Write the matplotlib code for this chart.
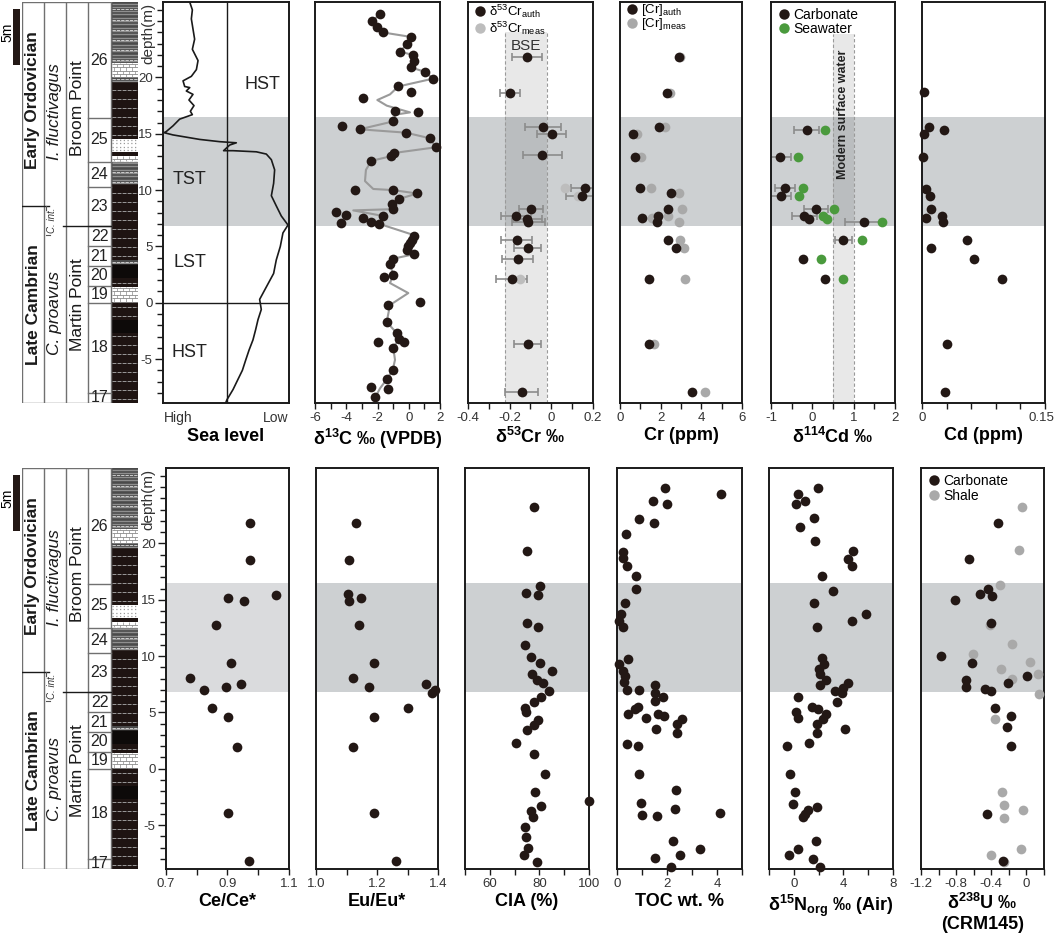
import numpy as np
import matplotlib
matplotlib.use('Agg')
import matplotlib.pyplot as plt
import matplotlib.transforms as mtransforms
from matplotlib.ticker import FixedLocator, MultipleLocator
from matplotlib.patches import Rectangle
from matplotlib.lines import Line2D

plt.rcParams['font.family'] = ['Liberation Sans', 'DejaVu Sans']
plt.rcParams['mathtext.fontset'] = 'custom'
plt.rcParams['mathtext.rm'] = 'Liberation Sans'
plt.rcParams['mathtext.it'] = 'Liberation Sans:italic'
plt.rcParams['mathtext.bf'] = 'Liberation Sans:bold'
plt.rcParams['mathtext.default'] = 'regular'
plt.rcParams['axes.unicode_minus'] = False

# ---------------- data ----------------
# sea level curve (0 = high, 1 = low)
sl_x = [0.212, 0.233, 0.225, 0.238, 0.251, 0.233, 0.278, 0.265, 0.225, 0.159, 0.172, 0.212, 0.185,
        0.238, 0.206, 0.246, 0.217, 0.233, 0.132, 0.079, 0.026, 0.008, 0.079, 0.291, 0.450, 0.582,
        0.529, 0.481, 0.556, 0.741, 0.820, 0.860, 0.886, 0.878, 0.860, 0.899, 0.939, 0.992, 0.952,
        0.931, 0.899, 0.878, 0.820, 0.767, 0.780, 0.754, 0.735, 0.714, 0.683, 0.656, 0.630, 0.595,
        0.556, 0.508, 0.497]
sl_depth = [26.7, 26.0, 25.2, 24.3, 23.4, 22.5, 21.5, 20.7, 20.1, 19.7, 19.2, 19.1, 18.8, 18.5,
            18.0, 17.5, 17.0, 16.7, 16.3, 15.7, 15.2, 15.1, 14.9, 14.5, 14.3, 14.2, 14.0, 13.5,
            13.5, 13.4, 13.2, 12.7, 11.8, 10.6, 9.5, 8.6, 7.7, 6.9, 6.2, 5.0, 3.8, 2.6, 1.4, 0.3,
            -0.6, -1.5, -2.4, -3.3, -4.2, -5.1, -6.0, -6.8, -7.7, -8.6, -8.9]
sl_labels = ['HST', 'TST', 'LST', 'HST']
sl_label_x = [0.79, 0.21, 0.21, 0.21]
sl_label_depth = [19.4, 10.9, 3.6, -4.4]

# d13C
d13c = [-1.84, -2.37, -2.01, -1.67, 0.14, -0.09, -0.56, 0.25, 0.36, 0.12, 1.04, 1.57, -0.67, 0.14,
        -2.91, -0.86, 0.57, -0.99, -4.29, -3.14, -0.18, 1.36, 1.72, -0.92, -1.16, -2.39, -3.42,
        -0.99, 0.53, -0.65, -1.09, -1.03, -4.66, -4.04, -1.63, -2.91, -2.42, -4.36, -1.88, 0.34,
        0.23, 0.08, -0.03, -0.13, 0.31, -1.03, -1.2, -0.99, -1.56, 0.72, -1.35, -1.41, -0.77,
        -0.62, -0.32, -1.99, -0.99, -1.03, -1.41, -2.44, -1.31, -2.14]
d13c_depth = [25.6, 25.0, 24.5, 24.0, 23.6, 23.0, 22.3, 22.0, 21.5, 20.9, 20.5, 19.9, 19.2, 18.7,
              18.2, 17.0, 16.9, 16.1, 15.7, 15.4, 15.1, 14.6, 13.8, 13.3, 13.0, 12.6, 10.0, 10.0,
              9.7, 9.2, 8.8, 8.3, 8.1, 7.8, 7.7, 7.5, 7.2, 7.1, 7.0, 5.96, 5.6, 5.3, 5.0, 4.7,
              4.3, 3.9, 3.4, 2.5, 2.3, 0.1, -0.2, -1.7, -2.7, -3.2, -3.5, -3.5, -4.0, -6.0,
              -6.8, -7.5, -7.7, -8.4]
# smoothed d13C trend line
d13c_trend = [-1.84, -2.37, -2.01, -1.67, 0.14, -0.09, -0.56, 0.25, 0.36, 0.12, 1.04, 1.57, -0.67,
              -1.2, -2.01, -1.41, 0.08, -0.86, -0.99, -3.14, -0.18, 1.36, 1.72, -0.92, -1.16,
              -2.39, -2.74, -2.8, -2.27, -0.99, 0.53, -0.65, -1.09, -1.2, -3.55, -1.63, -1.88,
              0.34, -0.13, 0.31, -1.03, -1.2, -0.99, -1.2, -0.03, -1.2, -1.41, -0.77, -0.62,
              -0.99, -0.88, -1.03, -1.41, -1.84, -2.14]
d13c_trend_depth = [25.6, 25.0, 24.5, 24.0, 23.6, 23.0, 22.3, 22.0, 21.5, 20.9, 20.5, 19.9, 19.2,
                    18.5, 18.0, 17.5, 16.9, 16.7, 16.1, 15.4, 15.1, 14.6, 13.8, 13.3, 13.0, 12.6,
                    11.8, 10.8, 10.1, 10.0, 9.7, 9.2, 8.8, 8.3, 8.2, 7.7, 7.0, 6.0, 4.7, 4.3, 3.9,
                    3.4, 2.5, 1.75, 0.86, -0.2, -1.7, -2.7, -3.2, -4.0, -5.07, -6.0, -6.8, -7.6,
                    -8.4]

# d53Cr
cr53_auth = [-0.115, -0.199, -0.041, 0.002, -0.043, 0.163, 0.147, -0.099, -0.17, -0.115, -0.11,
             -0.167, -0.114, -0.162, -0.191, -0.114, -0.143]
cr53_meas = [-0.115, -0.199, -0.041, 0.002, -0.043, 0.066, 0.126, -0.099, -0.17, -0.115, -0.11,
             -0.167, -0.114, -0.162, -0.151, -0.114, -0.143]
cr53_err = [0.072, 0.047, 0.086, 0.07, 0.095, 0.07, 0.075, 0.058, 0.073, 0.07, 0.08, 0.075, 0.063,
            0.076, 0.074, 0.063, 0.08]
cr53_depth = [21.8, 18.6, 15.6, 15.0, 13.1, 10.2, 9.5, 8.3, 7.7, 7.4, 7.2, 5.6, 4.9, 3.9, 2.1,
              -3.7, -7.9]
bse_range = (-0.22, -0.02)

# Cr concentration
cr_auth = [2.88, 2.30, 1.94, 0.66, 0.74, 0.99, 2.52, 2.38, 1.89, 1.10, 1.84, 2.38, 2.76, 1.43,
           1.43, 3.53]
cr_meas = [2.96, 2.47, 2.22, 0.85, 1.02, 1.51, 2.88, 3.04, 2.38, 1.56, 2.91, 2.96, 3.16, 3.21,
           1.69, 4.19]
cr_depth = [21.8, 18.6, 15.6, 15.0, 12.9, 10.2, 9.7, 8.3, 7.7, 7.5, 7.2, 5.6, 4.9, 2.1, -3.7, -7.9]

# d114Cd
cd_carb = [-0.137, -0.782, -0.661, -0.766, 0.089, -0.194, -0.08, 1.258, 0.75, -0.218, 0.306]
cd_sw = [0.306, -0.339, -0.218, -0.315, 0.532, 0.25, 0.347, 1.69, 1.19, 0.21, 0.742]
cd_err = [0.31, 0.26, 0.25, 0.26, 0.29, 0.3, 0.0, 0.46, 0.21, 0.0, 0.0]
cd_depth = [15.3, 12.9, 10.2, 9.5, 8.3, 7.7, 7.4, 7.2, 5.6, 3.9, 2.1]
msw_range = (0.5, 1.0)

# Cd concentration
cd_ppm = [0.003, 0.008, 0.027, 0.003, 0.001, 0.005, 0.010, 0.011, 0.024, 0.005, 0.026, 0.055,
          0.011, 0.064, 0.098, 0.030, 0.028]
cd_ppm_depth = [18.7, 15.6, 15.3, 15.0, 12.9, 10.1, 9.5, 8.3, 7.7, 7.5, 7.2, 5.6, 4.9, 3.9, 2.1,
                -3.7, -7.9]

# Ce/Ce*, Eu/Eu*
ce = [0.974, 0.974, 1.058, 0.903, 0.954, 0.862, 0.912, 0.779, 0.943, 0.894, 0.822, 0.851, 0.902,
      0.931, 0.902, 0.971]
ce_depth = [21.8, 18.5, 15.4, 15.2, 14.9, 12.8, 9.4, 8.1, 7.5, 7.3, 7.0, 5.4, 4.6, 1.9, -3.9, -8.2]
eu = [1.131, 1.108, 1.105, 1.149, 1.108, 1.142, 1.191, 1.120, 1.360, 1.173, 1.389, 1.380, 1.301,
      1.191, 1.121, 1.191, 1.261]
eu_depth = [21.8, 18.5, 15.5, 15.2, 14.9, 12.8, 9.4, 8.1, 7.5, 7.3, 7.0, 6.7, 5.4, 4.6, 1.9,
            -3.9, -8.2]

# CIA
cia = [77.7, 75.1, 80.2, 74.5, 79.6, 75.1, 79.5, 74.1, 76.5, 80.2, 85.0, 77.2, 79.2, 81.5, 83.9,
       80.8, 77.7, 74.1, 74.5, 79.5, 77.7, 75.1, 70.5, 77.7, 82.4, 78.3, 100.0, 80.6, 76.8, 77.5,
       74.1, 74.5, 75.6, 73.7, 79.1]
cia_depth = [23.2, 19.3, 16.2, 15.6, 15.4, 12.9, 12.6, 11.0, 9.9, 9.4, 8.7, 8.4, 7.9, 7.6, 6.9,
             6.4, 5.9, 5.4, 5.0, 4.3, 3.9, 3.4, 2.3, 1.3, -0.5, -2.1, -2.9, -3.3, -3.75, -4.3,
             -5.2, -6.1, -7.05, -7.65, -8.3]

# TOC
toc = [1.91, 4.15, 1.44, 2.0, 0.87, 1.47, 0.37, 0.25, 0.23, 0.41, 0.77, 0.75, 0.33, 0.15, 0.08,
       0.24, 0.44, 0.09, 0.24, 0.33, 0.27, 0.41, 0.87, 1.51, 1.51, 1.84, 1.53, 0.84, 0.71, 0.44,
       1.64, 1.88, 1.17, 2.6, 2.41, 1.55, 2.41, 0.41, 0.84, 0.88, 2.35, 0.95, 2.33, 0.99, 1.61,
       4.11, 2.23, 3.33, 2.51, 1.53, 2.17]
toc_depth = [24.9, 24.4, 23.8, 23.5, 22.2, 21.8, 20.8, 19.2, 18.7, 18.0, 17.1, 16.0, 14.7, 13.7,
             13.1, 12.6, 9.7, 9.3, 8.7, 8.2, 7.7, 7.0, 7.0, 7.4, 6.7, 6.4, 6.0, 5.5, 5.3, 4.9,
             4.9, 4.7, 4.5, 4.4, 4.0, 3.5, 3.2, 2.2, 2.0, -0.5, -1.9, -3.0, -3.6, -4.1, -4.2,
             -3.9, -6.4, -7.1, -7.65, -7.9, -8.7]

# d15N
n15 = [1.99, 0.37, 0.94, 0.16, 1.59, 0.52, 1.73, 4.81, 4.39, 4.73, 2.30, 3.14, 1.65, 5.83, 4.73,
       1.91, 2.30, 2.43, 2.04, 2.12, 2.61, 2.09, 4.39, 4.0, 3.29, 3.92, 0.34, 3.48, 1.46, 1.99,
       2.61, 0.16, 0.34, 2.35, 1.86, 4.16, 1.91, 1.23, -0.55, -0.31, 0.13, -0.03, 1.91, 1.12,
       0.89, 0.73, 1.78, 0.37, -0.37, 1.52, 2.09]
n15_depth = [24.9, 24.4, 23.8, 23.5, 22.3, 21.5, 20.2, 19.3, 18.6, 18.0, 17.1, 15.8, 14.7, 13.7,
             13.1, 12.6, 9.8, 9.3, 8.9, 8.4, 7.9, 7.4, 7.6, 7.2, 6.9, 6.7, 6.4, 5.9, 5.5, 5.3,
             4.9, 5.0, 4.5, 4.4, 4.0, 3.5, 3.2, 2.3, 2.0, -0.5, -2.1, -3.1, -3.4, -3.7, -4.0,
             -4.3, -6.4, -7.1, -7.7, -8.0, -8.7]

# d238U
u_carb = [-0.326, -0.659, -0.439, -0.527, -0.394, -0.810, -0.402, -0.973, -0.621, 0.011, -0.685,
          -0.205, -0.685, -0.477, -0.405, -0.356, -0.175, -0.22, -0.175, -0.451, -0.269]
u_carb_depth = [21.8, 18.6, 16.0, 15.5, 15.3, 15.0, 12.9, 10.0, 9.4, 8.2, 7.9, 7.6, 7.3, 7.1, 6.9,
                5.4, 4.7, 3.7, 2.0, -4.0, -8.2]
u_shale = [-0.054, -0.08, -0.3, -0.413, -0.167, -0.61, 0.041, -0.292, 0.136, -0.16, 0.139, -0.356,
           -0.273, -0.25, -0.035, -0.254, -0.061, -0.405, -0.254]
u_shale_depth = [23.2, 19.4, 16.3, 12.8, 11.1, 10.2, 9.5, 8.9, 8.4, 8.0, 6.6, 4.4, -2.1, -3.2,
                 -3.7, -4.4, -7.1, -7.7, -8.3]

# stratigraphy
bed_names = ['26', '25', '24', '23', '22', '21', '20', '19', '18', '17']
bed_bounds = [26.7, 16.4, 12.5, 10.25, 6.8, 5.0, 3.3, 1.45, 0.0, -8.0, -8.9]
lith_top = [26.7, 21.3, 20.0, 19.6, 14.5, 13.4, 13.0, 12.5, 10.5, 3.8, 3.4, 2.2, 1.4, 0.1, -1.5, -2.7]
lith_base = [21.3, 20.0, 19.6, 14.5, 13.4, 13.0, 12.5, 10.5, 3.8, 3.4, 2.2, 1.4, 0.1, -1.5, -2.7, -8.9]
lith_kind = ['grey', 'light', 'grey', 'dark', 'dots', 'dark', 'light', 'grey', 'dark', 'grey',
             'solid', 'dark', 'light', 'dark', 'solid', 'dark']

# ---------------- style ----------------
W, H = 1055, 938
YLIM = (-8.9, 26.7)
BAND = (6.8, 16.5)
TOP = (2, 403)
BOT = (468, 869)
DOT = '#231815'
GREY_DOT = '#a9a9a9'
GREEN = '#4a9a3d'
BAND_C = '#cdd0d2'
INK = '#1a1a1a'

fig = plt.figure(figsize=(W / 100, H / 100), dpi=100)


def add_ax(x0, x1, row):
    y0, y1 = row
    return fig.add_axes([x0 / W, 1 - y1 / H, (x1 - x0) / W, (y1 - y0) / H])


def panel(x0, x1, row, xlim, major, labels, minor, xlabel, band=BAND_C):
    ax = add_ax(x0, x1, row)
    ax.set_xlim(xlim)
    ax.set_ylim(YLIM)
    ax.axhspan(*BAND, color=band, lw=0, zorder=0)
    ax.set_yticks([])
    ax.set_xticks(major)
    ax.set_xticklabels(labels)
    if minor:
        ax.xaxis.set_minor_locator(MultipleLocator(minor))
    ax.tick_params(axis='x', which='both', direction='out', length=4.5, width=1.0,
                   labelsize=9.5, labelcolor='#333333', pad=2, color=INK)
    for s in ax.spines.values():
        s.set_linewidth(1.4)
        s.set_color(INK)
    ax.set_xlabel(xlabel, fontsize=13, fontweight='bold', labelpad=2)
    return ax


def depth_axis(ax, xfrac):
    ax.yaxis.set_major_locator(FixedLocator([-5, 0, 5, 10, 15, 20]))
    ax.yaxis.set_minor_locator(FixedLocator(list(range(-8, 27))))
    ax.set_yticklabels(['-5', '0', '5', '10', '15', '20'])
    ax.tick_params(axis='y', which='major', left=True, length=6, width=1, labelsize=9.5,
                   labelcolor='#333333', pad=1.5, color=INK)
    ax.tick_params(axis='y', which='minor', left=True, length=4, width=1, color=INK)
    tr = mtransforms.blended_transform_factory(ax.transAxes, ax.transData)
    ax.text(xfrac, 23.9, 'depth(m)', transform=tr, rotation=90, ha='center', va='center',
            fontsize=11, color='#333333')


def dots(ax, x, y, color=DOT, z=4):
    ax.plot(x, y, 'o', color=color, ms=7, mew=0, zorder=z, clip_on=False)


def legend(ax, labels, colors, top=1.015, spacing=0.05, size=10):
    handles = [Line2D([], [], marker='o', ls='none', color=c, ms=7.5, mew=0) for c in colors]
    ax.legend(handles, labels, loc='upper left', bbox_to_anchor=(0.0, top), frameon=False,
              fontsize=size, handletextpad=0.2, labelspacing=spacing, borderpad=0.2,
              handlelength=1.0, borderaxespad=0.2)


def draw_column(ax):
    ax.set_xlim(0, 116)
    ax.set_ylim(YLIM)
    ax.axis('off')
    lc = '#707070'
    # lithology
    for top, base, kind in zip(lith_top, lith_base, lith_kind):
        fc = {'dark': '#1e1412', 'solid': '#0d0a09', 'grey': '#4a4a4a'}.get(kind, 'white')
        ax.add_patch(Rectangle((90, base), 26, top - base, fc=fc, ec='none'))
        if kind == 'dark':
            ys = np.arange(base + 0.35, top - 0.1, 0.8)
            ax.hlines(ys, 90, 116, colors='#9a9a9a', lw=0.7, linestyles=(0, (4, 1.2)))
        elif kind == 'grey':
            ys = np.arange(base + 0.12, top, 0.3)
            ax.hlines(ys, 90, 116, colors='#8f8f8f', lw=1.0)
            ax.hlines(ys[::3] + 0.12, 90, 116, colors='#e0e0e0', lw=0.6, linestyles=(0, (4, 1.2)))
        elif kind == 'light':
            ys = np.arange(base, top, 0.3)
            ax.hlines(ys, 90, 116, colors='#8a8a8a', lw=0.6)
            for i, yv in enumerate(ys):
                xs = np.arange(92 + (i % 2) * 3, 116, 6)
                ax.vlines(xs, yv, min(yv + 0.3, top), colors='#8a8a8a', lw=0.5)
        elif kind == 'dots':
            ys = np.arange(base + 0.15, top, 0.3)
            ax.hlines(ys, 90, 116, colors='#9a9a9a', lw=0.9, linestyles=(0, (1, 2)))
    # frame lines
    for xv in [0, 22, 44, 66, 89]:
        ax.plot([xv, xv], YLIM, color=lc, lw=1.0)
    ax.plot([0, 89], [YLIM[0]] * 2, color=lc, lw=1.0)
    ax.plot([0, 89], [YLIM[1]] * 2, color=lc, lw=1.0)
    for b in bed_bounds[1:-1]:
        ax.plot([66, 89], [b, b], color=lc, lw=1.0)
    for name, t, b in zip(bed_names, bed_bounds[:-1], bed_bounds[1:]):
        ax.text(77.5, (t + b) / 2, name, ha='center', va='center', fontsize=11.5, color='#222222',
                clip_on=True)
    ax.plot([0, 27], [8.6, 8.6], color=INK, lw=1.0)
    ax.plot([41, 89], [6.8, 6.8], color=INK, lw=1.0)
    ax.plot([24, 24], [8.6, 8.2], color='#555555', lw=0.8)
    ax.plot([24, 28], [6.0, 6.0], color='#555555', lw=0.8)
    kw = dict(rotation=90, ha='center', va='center', fontsize=12.5, color='#1a1a1a')
    ax.text(11, 18.0, 'Early Ordovician', fontweight='bold', **kw)
    ax.text(11, -0.2, 'Late Cambrian', fontweight='bold', **kw)
    ax.text(33, 17.0, 'I. fluctivagus', fontstyle='italic', **kw)
    ax.text(33, -0.9, 'C. proavus', fontstyle='italic', **kw)
    ax.text(55, 17.3, 'Broom Point', **kw)
    ax.text(55, -0.2, 'Martin Point', **kw)
    ax.text(30, 7.3, 'C. int.', rotation=90, ha='center', va='center', fontsize=7,
            fontstyle='italic', color='#333333')
    # 5 m scale bar
    ax.add_patch(Rectangle((-9, 21.1), 7, 5.0, fc=DOT, ec='none', clip_on=False))
    ax.text(-15, 24.0, '5m', rotation=90, ha='center', va='center', fontsize=10, clip_on=False)


# ---------------- top row ----------------
col = add_ax(22, 138, TOP)
draw_column(col)

ax = panel(163, 289, TOP, (0, 1), [0.12, 0.89], ['High', 'Low'], None, 'Sea level')
ax.tick_params(axis='x', which='both', length=0, pad=6, labelsize=10)
depth_axis(ax, -0.12)
ax.plot(sl_x, sl_depth, color=INK, lw=1.2, zorder=3)
ax.axvline(0.508, color=INK, lw=1.0, zorder=2)
ax.axhline(0, color=INK, lw=1.0, zorder=2)
for t, xv, yv in zip(sl_labels, sl_label_x, sl_label_depth):
    ax.text(xv, yv, t, ha='center', va='center', fontsize=13, color='#222222')

ax = panel(315, 440, TOP, (-6, 2), [-6, -4, -2, 0, 2], ['-6', '-4', '-2', '0', '2'], 1,
           'δ$^{13}$C ‰ (VPDB)')
ax.plot(d13c_trend, d13c_trend_depth, color='#9a9a9a', lw=1.5, zorder=2)
dots(ax, d13c, d13c_depth)

ax = panel(468, 593, TOP, (-0.4, 0.2), [-0.4, -0.2, 0, 0.2], ['-0.4', '-0.2', '0', '0.2'], 0.1,
           'δ$^{53}$Cr ‰')
ax.fill_between(bse_range, YLIM[0], 24.0, color='black', alpha=0.09, lw=0, zorder=1)
for xv in bse_range:
    ax.plot([xv, xv], [YLIM[0], 24.0], color='#9a9a9a', lw=0.8, ls=(0, (3, 2)), zorder=1)
ax.text(np.mean(bse_range), 22.8, 'BSE', ha='center', va='center', fontsize=11, color='#333333')
ax.errorbar(cr53_auth, cr53_depth, xerr=cr53_err, fmt='none', ecolor='#8c8c8c', elinewidth=1.2,
            capsize=3, capthick=1.2, zorder=2)
dots(ax, cr53_meas, cr53_depth, color='#bdbdbd', z=3)
dots(ax, cr53_auth, cr53_depth)
legend(ax, ['δ$^{53}$Cr$_{auth}$', 'δ$^{53}$Cr$_{meas}$'], [DOT, '#bdbdbd'], top=1.012,
       spacing=0.0, size=9.5)

ax = panel(620, 742, TOP, (0, 6), [0, 2, 4, 6], ['0', '2', '4', '6'], 1, 'Cr (ppm)')
dots(ax, cr_meas, cr_depth, color=GREY_DOT, z=3)
dots(ax, cr_auth, cr_depth)
legend(ax, ['[Cr]$_{auth}$', '[Cr]$_{meas}$'], [DOT, GREY_DOT], top=1.012, spacing=-0.15,
       size=9.5)

ax = panel(771, 895, TOP, (-1, 2), [-1, 0, 1, 2], ['-1', '0', '1', '2'], 0.5, 'δ$^{114}$Cd ‰')
ax.fill_between(msw_range, YLIM[0], 23.9, color='black', alpha=0.09, lw=0, zorder=1)
for xv in msw_range:
    ax.plot([xv, xv], [YLIM[0], 23.9], color='#9a9a9a', lw=0.8, ls=(0, (3, 2)), zorder=1)
ax.text(np.mean(msw_range), 16.7, 'Modern surface water', rotation=90, ha='center', va='center',
        fontsize=9, fontweight='bold', color='#222222')
cd_err_arr = np.array(cd_err)
m = cd_err_arr > 0
ax.errorbar(np.array(cd_carb)[m], np.array(cd_depth)[m], xerr=cd_err_arr[m], fmt='none',
            ecolor='#8c8c8c', elinewidth=1.2, capsize=3, capthick=1.2, zorder=2)
dots(ax, cd_carb, cd_depth)
dots(ax, cd_sw, cd_depth, color=GREEN)
legend(ax, ['Carbonate', 'Seawater'], [DOT, GREEN], top=1.0)

ax = panel(922, 1045, TOP, (0, 0.15), [0, 0.15], ['0', '0.15'], 0.03, 'Cd (ppm)')
lab = ax.get_xticklabels()[-1]
lab.set_transform(lab.get_transform() + mtransforms.ScaledTranslation(-0.04, 0, fig.dpi_scale_trans))
dots(ax, cd_ppm, cd_ppm_depth)

# ---------------- bottom row ----------------
col = add_ax(22, 138, BOT)
draw_column(col)

ax = panel(166, 289, BOT, (0.7, 1.1), [0.7, 0.9, 1.1], ['0.7', '0.9', '1.1'], 0.1, 'Ce/Ce*',
           band='#dadbdd')
depth_axis(ax, -0.145)
dots(ax, ce, ce_depth)

ax = panel(316, 438, BOT, (1.0, 1.4), [1.0, 1.2, 1.4], ['1.0', '1.2', '1.4'], 0.1, 'Eu/Eu*')
dots(ax, eu, eu_depth)

ax = panel(465, 589, BOT, (50, 100), [60, 80, 100], ['60', '80', '100'], 10, 'CIA (%)')
dots(ax, cia, cia_depth)

ax = panel(617, 742, BOT, (0, 5), [0, 2, 4], ['0', '2', '4'], 1, 'TOC wt. %')
dots(ax, toc, toc_depth)

ax = panel(769, 893, BOT, (-2, 8), [0, 4, 8], ['0', '4', '8'], 2, 'δ$^{15}$N$_{org}$ ‰ (Air)')
dots(ax, n15, n15_depth)

ax = panel(921, 1044, BOT, (-1.2, 0.2), [-1.2, -0.8, -0.4, 0], ['-1.2', '-0.8', '-0.4', '0'], 0.2,
           'δ$^{238}$U ‰\n(CRM145)')
dots(ax, u_shale, u_shale_depth, color=GREY_DOT, z=3)
dots(ax, u_carb, u_carb_depth)
legend(ax, ['Carbonate', 'Shale'], [DOT, GREY_DOT], top=0.998)

fig.savefig('out.png', dpi=100)
